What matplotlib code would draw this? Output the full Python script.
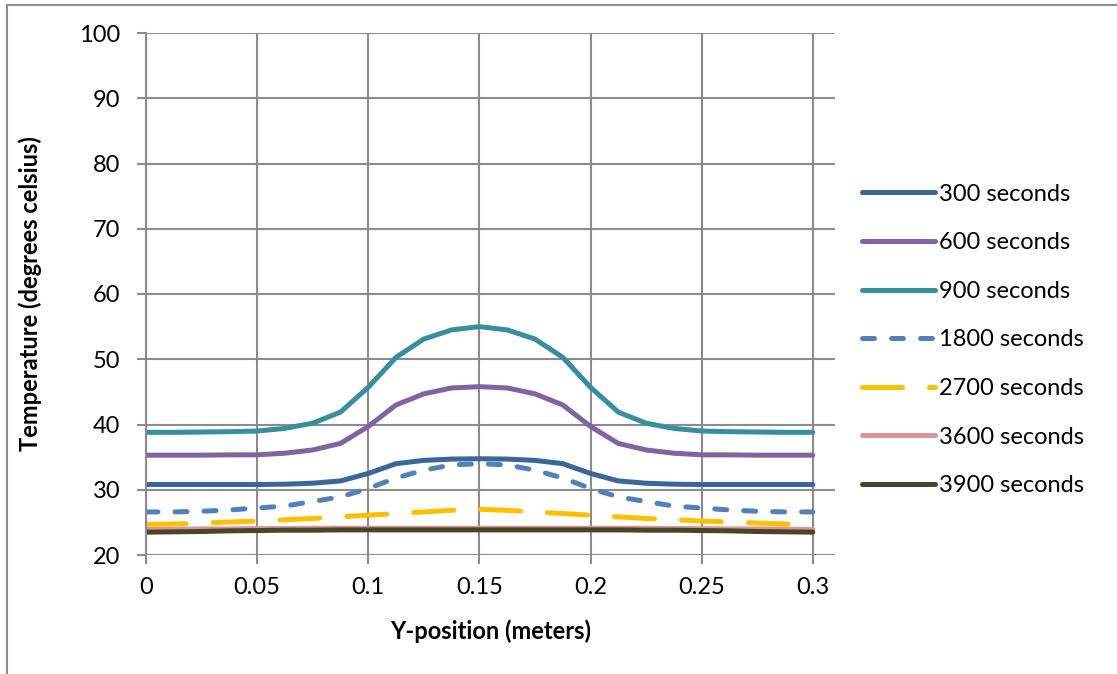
import numpy as np
import matplotlib.pyplot as plt
from matplotlib.patches import Rectangle

# positions along the plate (m)
y_pos = np.arange(25) * 0.0125

# temperature profiles (deg C)
t300 = [30.8, 30.8, 30.8, 30.8, 30.8, 30.85, 31.0, 31.35, 32.5, 34.0, 34.5, 34.7, 34.75,
        34.7, 34.5, 34.0, 32.5, 31.35, 31.0, 30.85, 30.8, 30.8, 30.8, 30.8, 30.8]
t600 = [35.3, 35.3, 35.3, 35.35, 35.35, 35.6, 36.1, 37.1, 39.7, 43.0, 44.7, 45.6, 45.8,
        45.6, 44.7, 43.0, 39.7, 37.1, 36.1, 35.6, 35.35, 35.35, 35.3, 35.3, 35.3]
t900 = [38.8, 38.8, 38.85, 38.9, 39.0, 39.4, 40.2, 41.9, 45.7, 50.3, 53.1, 54.5, 55.0,
        54.5, 53.1, 50.3, 45.7, 41.9, 40.2, 39.4, 39.0, 38.9, 38.85, 38.8, 38.8]
t1800 = [26.6, 26.6, 26.7, 26.9, 27.2, 27.5, 28.2, 28.9, 30.2, 31.8, 33.0, 33.8, 34.0,
         33.8, 33.0, 31.8, 30.2, 28.9, 28.2, 27.5, 27.2, 26.9, 26.7, 26.6, 26.6]
t2700 = [24.7, 24.75, 24.9, 25.05, 25.2, 25.4, 25.6, 25.85, 26.1, 26.35, 26.6, 26.85, 27.0,
         26.85, 26.6, 26.35, 26.1, 25.85, 25.6, 25.4, 25.2, 25.05, 24.9, 24.75, 24.7]
t3600 = [23.9, 23.95, 24.0, 24.0, 24.05, 24.05, 24.1, 24.1, 24.1, 24.1, 24.1, 24.1, 24.1,
         24.1, 24.1, 24.1, 24.1, 24.1, 24.1, 24.05, 24.05, 24.0, 24.0, 23.95, 23.9]
t3900 = [23.5, 23.55, 23.6, 23.7, 23.75, 23.8, 23.8, 23.85, 23.85, 23.85, 23.85, 23.85, 23.85,
         23.85, 23.85, 23.85, 23.85, 23.85, 23.8, 23.8, 23.75, 23.7, 23.6, 23.55, 23.5]

labels = ['300 seconds', '600 seconds', '900 seconds', '1800 seconds',
          '2700 seconds', '3600 seconds', '3900 seconds']
series = [t300, t600, t900, t1800, t2700, t3600, t3900]
colors = ['#3b6699', '#8064a2', '#368f9f', '#4f81bd', '#ffc000', '#d99694', '#4a452a']
dashes = [None, None, None, (2.4, 3.4), (8.0, 5.4), None, None]

plt.rcParams['font.family'] = ['Lato', 'DejaVu Sans']

fig = plt.figure(figsize=(11.17, 6.74), dpi=100)
# outer chart border
fig.patches.append(Rectangle((7 / 1117, -0.01), 1.02, 1 - 5 / 674 + 0.01,
                             transform=fig.transFigure, fill=False,
                             edgecolor='#8c8c8c', linewidth=1.5))
ax = fig.add_axes([146 / 1117, 1 - 555 / 674, (835 - 146) / 1117, (555 - 33) / 674])

for vals, lab, c, d in zip(series, labels, colors, dashes):
    line, = ax.plot(y_pos, vals, color=c, linewidth=3.6, label=lab,
                    solid_capstyle='round', dash_capstyle='round')
    if d is not None:
        line.set_dashes(d)

ax.set_xlim(0, 0.31)
ax.set_ylim(20, 100)
ax.set_xticks([0, 0.05, 0.1, 0.15, 0.2, 0.25, 0.3])
ax.set_xticklabels(['0', '0.05', '0.1', '0.15', '0.2', '0.25', '0.3'])
ax.set_yticks(range(20, 101, 10))
ax.grid(True, color='#8c8c8c', linewidth=1.5)
ax.set_axisbelow(True)
for s in ['top', 'right', 'bottom']:
    ax.spines[s].set_visible(False)
ax.spines['left'].set_color('#8c8c8c')
ax.spines['left'].set_linewidth(1.5)
ax.tick_params(axis='both', colors='#8c8c8c', labelcolor='black', labelsize=17,
               length=6.5, width=1.5, direction='out')
ax.tick_params(axis='y', pad=12)
ax.tick_params(axis='x', pad=9)

ax.set_xlabel('Y-position (meters)', fontsize=17, fontweight='bold', va='center')
ax.set_ylabel('Temperature (degrees celsius)', fontsize=17, fontweight='bold', va='center')
ax.xaxis.set_label_coords(0.5, (555 - 631) / 522)
ax.yaxis.set_label_coords((30 - 146) / 689, 0.5)

ax.legend(loc='center left', bbox_to_anchor=(1.039, 0.412), frameon=False, fontsize=17,
          handlelength=3.1, handletextpad=0.15, labelspacing=1.17, borderpad=0,
          borderaxespad=0)

fig.savefig('out.png', dpi=100)
